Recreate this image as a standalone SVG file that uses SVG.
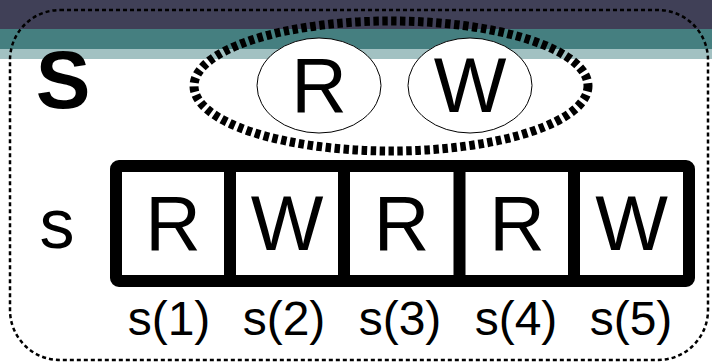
<svg xmlns="http://www.w3.org/2000/svg" width="712" height="364" viewBox="0 0 712 364">
<style>
.t{font-family:"Liberation Sans",Arial,sans-serif;fill:#000;text-anchor:middle}
.cell{fill:#fff;stroke:#000;stroke-width:12;stroke-linejoin:round}
.lbl{font-size:48px}
.big{font-size:77px}
</style>
<rect x="0" y="0" width="712" height="364" fill="#fff"/>
<rect x="0" y="0" width="712" height="29" fill="#404057"/>
<rect x="0" y="29" width="712" height="20" fill="#457f80"/>
<rect x="0" y="49" width="712" height="10" fill="#a2c1c2"/>
<g id="frame">
<rect x="10" y="10" width="698" height="350" rx="50" ry="50" fill="none" stroke="#000" stroke-width="2.5" stroke-dasharray="4 3"/>
</g>
<g id="S-label"><text class="t" x="63" y="108" style="font-size:82px;font-weight:bold">S</text></g>
<g id="set">
<ellipse cx="391" cy="86" rx="197" ry="65" fill="none" stroke="#000" stroke-width="9" stroke-dasharray="5.5 3.5"/>
</g>
<g id="nodeR">
<ellipse cx="319" cy="85.5" rx="62" ry="47.5" fill="#fff" stroke="#000" stroke-width="1"/>
<text class="t big" x="319" y="112">R</text>
</g>
<g id="nodeW">
<ellipse cx="470" cy="85.5" rx="62" ry="47.5" fill="#fff" stroke="#000" stroke-width="1"/>
<text class="t big" x="470" y="112">W</text>
</g>
<g id="s-label"><text class="t" x="57" y="248" style="font-size:70px">s</text></g>
<g id="seq">
<rect class="cell" x="116" y="166" width="573" height="115" rx="3"/>
</g>
<g id="connectors">
<line x1="230" y1="166" x2="230" y2="281" stroke="#000" stroke-width="12"/>
<line x1="344" y1="166" x2="344" y2="281" stroke="#000" stroke-width="12"/>
<line x1="459.5" y1="166" x2="459.5" y2="281" stroke="#000" stroke-width="12"/>
<line x1="574" y1="166" x2="574" y2="281" stroke="#000" stroke-width="12"/>
</g>
<g id="s1"><text class="t big" x="173" y="250">R</text><text class="t lbl" x="169" y="335">s(1)</text></g>
<g id="s2"><text class="t big" x="287" y="250">W</text><text class="t lbl" x="284" y="335">s(2)</text></g>
<g id="s3"><text class="t big" x="401.5" y="250">R</text><text class="t lbl" x="400" y="335">s(3)</text></g>
<g id="s4"><text class="t big" x="517" y="250">R</text><text class="t lbl" x="516" y="335">s(4)</text></g>
<g id="s5"><text class="t big" x="631.5" y="250">W</text><text class="t lbl" x="631" y="335">s(5)</text></g>
</svg>
